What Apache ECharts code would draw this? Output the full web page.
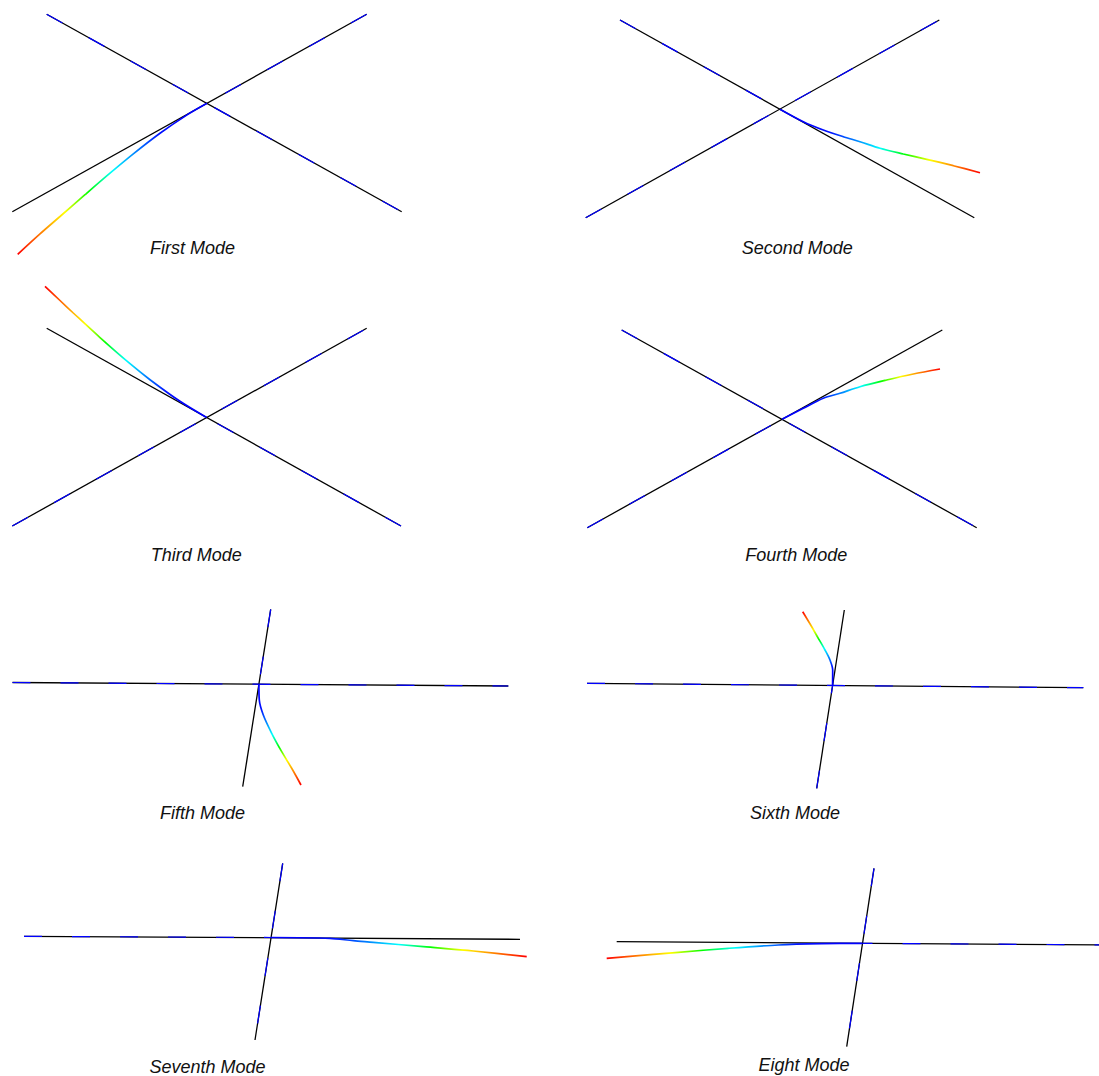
<!DOCTYPE html>
<html>
<head>
<meta charset="utf-8">
<title>Mode shapes of the crossed beams</title>
<script src="https://cdn.jsdelivr.net/npm/echarts@6/dist/echarts.min.js"></script>
<style>
  html, body { margin: 0; padding: 0; background: #ffffff; }
  #chart { width: 1099px; height: 1076px; }
</style>
</head>
<body>
<div id="chart"></div>
<script>
// Mode titles, one per panel (row by row, left to right)
const modeNames = ['First Mode', 'Second Mode', 'Third Mode', 'Fourth Mode',
                   'Fifth Mode', 'Sixth Mode', 'Seventh Mode', 'Eight Mode'];

// Undeformed beams: end points in model units, origin at the joint, y up
const beamA = [
  [[-1.947, -1.084], [1.597, 0.890]],
  [[-1.943, -1.085], [1.593, 0.892]],
  [[-1.943, -1.085], [1.601, 0.892]],
  [[-1.947, -1.084], [1.603, 0.893]],
  [[-2.464, 0.017], [2.494, -0.018]],
  [[-2.456, 0.022], [2.507, -0.022]],
  [[-2.471, 0.012], [2.489, -0.018]],
  [[-2.458, 0.016], [2.500, -0.016]]
];
const beamB = [
  [[-1.603, 0.890], [1.947, -1.084]],
  [[-1.600, 0.892], [1.943, -1.085]],
  [[-1.599, 0.892], [1.944, -1.085]],
  [[-1.603, 0.893], [1.947, -1.084]],
  [[0.118, 0.749], [-0.162, -1.025]],
  [[0.117, 0.755], [-0.159, -1.028]],
  [[0.116, 0.742], [-0.161, -1.025]],
  [[0.115, 0.750], [-0.158, -1.034]]
];

// Which beam carries the displaced arm in each mode
const armBeam = ['A', 'B', 'B', 'A', 'B', 'B', 'A', 'A'];

// Deformed shape of the displaced arm, from the joint out to its free tip
const armShape = [
  [[0, 0], [-0.203, -0.118], [-0.47, -0.30], [-0.737, -0.506], [-0.97, -0.699],
   [-1.22, -0.914], [-1.47, -1.132], [-1.67, -1.306], [-1.893, -1.51]],
  [[0, 0], [0.233, -0.125], [0.433, -0.208], [0.633, -0.275], [0.8, -0.325],
   [1.0, -0.391], [1.233, -0.448], [1.467, -0.501], [1.733, -0.565], [2.0, -0.635]],
  [[0, 0], [-0.266, 0.162], [-0.566, 0.378], [-0.766, 0.538], [-1.066, 0.799],
   [-1.333, 1.045], [-1.466, 1.17], [-1.616, 1.312]],
  [[0, 0], [0.213, 0.11], [0.413, 0.21], [0.58, 0.26], [0.78, 0.326],
   [1.047, 0.393], [1.313, 0.453], [1.58, 0.503]],
  [[0, 0], [0.004, -0.158], [0.044, -0.308], [0.128, -0.491], [0.228, -0.675],
   [0.328, -0.841], [0.421, -1.008]],
  [[0, 0], [0.001, 0.155], [-0.026, 0.255], [-0.076, 0.355], [-0.143, 0.472],
   [-0.209, 0.588], [-0.299, 0.738]],
  [[0, 0], [0.589, -0.008], [0.822, -0.032], [1.022, -0.048], [1.522, -0.092],
   [2.022, -0.135], [2.556, -0.192]],
  [[0, 0], [-0.408, -0.004], [-0.842, -0.017], [-1.342, -0.05], [-1.842, -0.09],
   [-2.558, -0.15]]
];

// ---- layout (pixels) ----
const jointPx = [[207, 103.3], [780, 109.2], [206.6, 417.5], [782, 419.3],
                 [258.9, 684.2], [832.6, 685.5], [271.1, 937.5], [862.5, 943.3]];
const labelPx = [[192.5, 248.3], [797.2, 248.3], [196.2, 555], [796.2, 555],
                 [202.5, 813], [795, 813], [207.5, 1067], [804, 1065]];
const HALF_W = 3, HALF_H = 1.6, PX_PER_UNIT = 100;

// ---- styles ----
const jetColors = ['#0000ff', '#0000ff', '#0010ff', '#0080ff', '#00ffff',
                   '#00ff00', '#ffff00', '#ff8000', '#ff0000'];
const INK = '#000000';
const REST_BLUE = '#0000ff';

const grid = [], xAxis = [], yAxis = [], series = [], visualMap = [];

modeNames.forEach((name, i) => {
  const [jx, jy] = jointPx[i];
  grid.push({
    left: jx - HALF_W * PX_PER_UNIT, top: jy - HALF_H * PX_PER_UNIT,
    width: 2 * HALF_W * PX_PER_UNIT, height: 2 * HALF_H * PX_PER_UNIT,
    outerBoundsMode: 'none', containLabel: false
  });
  xAxis.push({ type: 'value', gridIndex: i, min: -HALF_W, max: HALF_W, show: false });
  yAxis.push({ type: 'value', gridIndex: i, min: -HALF_H, max: HALF_H, show: false });

  const base = { type: 'line', xAxisIndex: i, yAxisIndex: i, showSymbol: false,
                 symbol: 'none', clip: false, silent: true, animation: false };

  // undeformed frame
  [beamA[i], beamB[i]].forEach(beam => {
    series.push(Object.assign({}, base, {
      data: beam, lineStyle: { color: INK, width: 1.3 }, z: 2
    }));
  });

  // deformed frame: the parts that stay at rest
  const moving = armBeam[i] === 'A' ? beamA[i] : beamB[i];
  const resting = armBeam[i] === 'A' ? beamB[i] : beamA[i];
  const arm = armShape[i];
  const tip = arm[arm.length - 1];
  const farEnd = moving.find(p => p[0] * tip[0] + p[1] * tip[1] < 0);
  [resting, [farEnd, [0, 0]]].forEach(part => {
    series.push(Object.assign({}, base, {
      data: part, lineStyle: { color: REST_BLUE, width: 1.2, type: [18, 30] }, z: 3
    }));
  });

  // deformed frame: the displaced arm, coloured by how far it has moved
  const armIndex = series.length;
  series.push(Object.assign({}, base, {
    data: arm, smooth: 0.3, lineStyle: { width: 1.7 }, z: 4
  }));
  const dim = Math.abs(tip[0]) >= Math.abs(tip[1]) ? 0 : 1;
  const ext = [0, tip[dim]];
  visualMap.push({
    type: 'continuous', show: false, seriesIndex: armIndex, dimension: dim,
    min: Math.min(...ext), max: Math.max(...ext),
    inRange: { color: tip[dim] < 0 ? jetColors.slice().reverse() : jetColors }
  });
});

const title = modeNames.map((name, i) => ({
  text: name, left: labelPx[i][0], top: labelPx[i][1], padding: 0,
  textAlign: 'center', textVerticalAlign: 'middle',
  textStyle: { fontFamily: '"Liberation Sans", Arial, sans-serif', fontStyle: 'italic',
               fontWeight: 'normal', fontSize: 18, color: '#111111' }
}));

const chart = echarts.init(document.getElementById('chart'), null, { renderer: 'svg' });
chart.setOption({
  backgroundColor: '#ffffff', animation: false,
  title, grid, xAxis, yAxis, visualMap, series
});
</script>
</body>
</html>
